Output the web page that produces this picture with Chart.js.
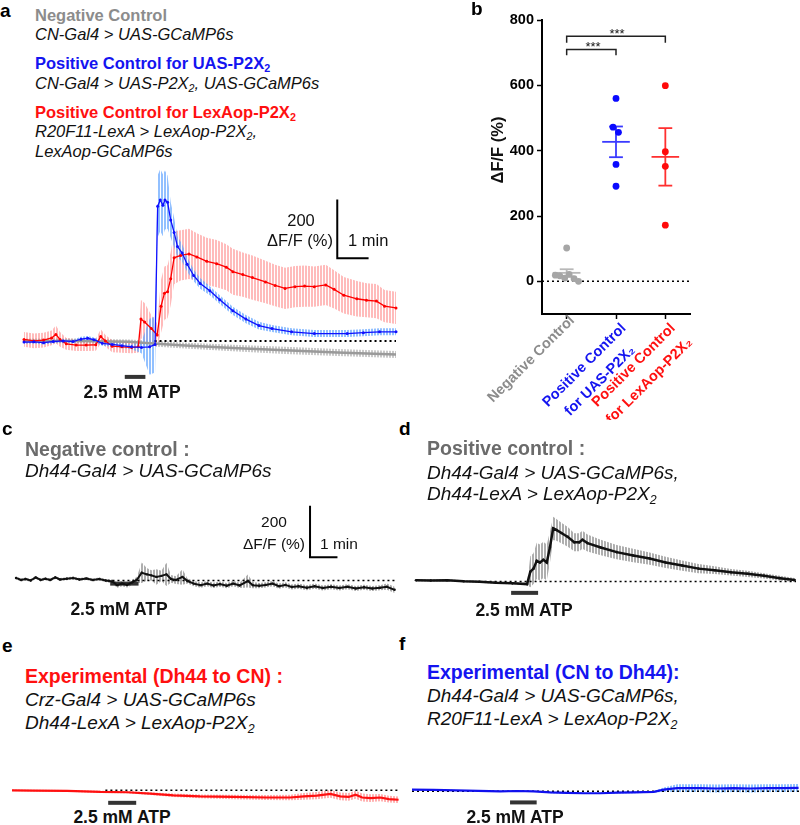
<!DOCTYPE html>
<html>
<head>
<meta charset="utf-8">
<script src="https://cdn.jsdelivr.net/npm/chart.js@4.4.1/dist/chart.umd.min.js"></script>
<style>
  html, body { margin: 0; padding: 0; background: #fff; }
  body { position: relative; width: 800px; height: 825px; overflow: hidden; font-family: "Liberation Sans", Arial, sans-serif; color: #111; }
  canvas { position: absolute; }
  .t { position: absolute; white-space: nowrap; line-height: 1; }
  .b { font-weight: bold; }
  .i { font-style: italic; }
  .lbl { font-weight: bold; font-size: 19px; color: #000; }
  .atp { font-weight: bold; font-size: 17.5px; transform: translateX(-50%); color: #111; }
  sub { font-size: 0.65em; vertical-align: -0.3em; line-height: 0; }
  .gray { color: #8c8c8c; }
  .dgray { color: #6b6b6b; }
  .blue { color: #1414f0; }
  .red { color: #ff1010; }
</style>
</head>
<body>
<canvas id="chart-a"></canvas>
<canvas id="chart-b"></canvas>
<canvas id="chart-c"></canvas>
<canvas id="chart-d"></canvas>
<canvas id="chart-e"></canvas>
<canvas id="chart-f"></canvas>

<!-- panel a -->
<div class="t lbl" style="left:0;top:1px">a</div>
<div class="t b gray" style="left:35px;top:7px;font-size:16.5px">Negative Control</div>
<div class="t i" style="left:35px;top:25.5px;font-size:16.5px">CN-Gal4 &gt; UAS-GCaMP6s</div>
<div class="t b blue" style="left:35px;top:55px;font-size:16.5px">Positive Control for UAS-P2X<sub>2</sub></div>
<div class="t i" style="left:35px;top:75px;font-size:16.5px">CN-Gal4 &gt; UAS-P2X<sub>2</sub>, UAS-GCaMP6s</div>
<div class="t b red" style="left:35px;top:104px;font-size:16.5px">Positive Control for LexAop-P2X<sub>2</sub></div>
<div class="t i" style="left:35px;top:123px;font-size:16.5px">R20F11-LexA &gt; LexAop-P2X<sub>2</sub>,</div>
<div class="t i" style="left:35px;top:143px;font-size:16.5px">LexAop-GCaMP6s</div>
<div class="t" style="left:301px;top:212px;font-size:16.5px;transform:translateX(-50%)">200</div>
<div class="t" style="right:467px;top:232px;font-size:16.5px">ΔF/F (%)</div>
<div class="t" style="left:348px;top:232px;font-size:16.5px">1 min</div>
<div class="t atp" style="left:132px;top:383.5px">2.5 mM ATP</div>

<!-- panel b -->
<div class="t lbl" style="left:471px;top:-1px">b</div>
<div class="t b" style="left:497px;top:150px;font-size:16.5px;transform:translate(-50%,-50%) rotate(-90deg)">ΔF/F (%)</div>
<div class="t" style="left:593px;top:40px;font-size:13px;transform:translateX(-50%)">***</div>
<div class="t" style="left:617px;top:27px;font-size:13px;transform:translateX(-50%)">***</div>

<!-- panel c -->
<div class="t lbl" style="left:2px;top:419px">c</div>
<div class="t b dgray" style="left:25px;top:439.5px;font-size:19.5px">Negative control :</div>
<div class="t i" style="left:25px;top:461px;font-size:19px">Dh44-Gal4 &gt; UAS-GCaMP6s</div>
<div class="t" style="left:274px;top:514px;font-size:15.5px;transform:translateX(-50%)">200</div>
<div class="t" style="right:495px;top:536px;font-size:15.5px">ΔF/F (%)</div>
<div class="t" style="left:320px;top:536px;font-size:15.5px">1 min</div>
<div class="t atp" style="left:119px;top:600.5px">2.5 mM ATP</div>

<!-- panel d -->
<div class="t lbl" style="left:399px;top:419px">d</div>
<div class="t b dgray" style="left:427px;top:438.5px;font-size:19.5px">Positive control :</div>
<div class="t i" style="left:427px;top:462.5px;font-size:19px">Dh44-Gal4 &gt; UAS-GCaMP6s,</div>
<div class="t i" style="left:427px;top:484px;font-size:19px">Dh44-LexA &gt; LexAop-P2X<sub>2</sub></div>
<div class="t atp" style="left:524px;top:601.5px">2.5 mM ATP</div>

<!-- panel e -->
<div class="t lbl" style="left:2px;top:636px">e</div>
<div class="t b red" style="left:25px;top:666.5px;font-size:19.5px">Experimental (Dh44 to CN) :</div>
<div class="t i" style="left:25px;top:689.5px;font-size:19px">Crz-Gal4 &gt; UAS-GCaMP6s</div>
<div class="t i" style="left:25px;top:712.5px;font-size:19px">Dh44-LexA &gt; LexAop-P2X<sub>2</sub></div>
<div class="t atp" style="left:122px;top:809px">2.5 mM ATP</div>

<!-- panel f -->
<div class="t lbl" style="left:399px;top:634px">f</div>
<div class="t b blue" style="left:427px;top:663px;font-size:19.5px">Experimental (CN to Dh44):</div>
<div class="t i" style="left:427px;top:686px;font-size:19px">Dh44-Gal4 &gt; UAS-GCaMP6s,</div>
<div class="t i" style="left:427px;top:709px;font-size:19px">R20F11-LexA &gt; LexAop-P2X<sub>2</sub></div>
<div class="t atp" style="left:515px;top:809px">2.5 mM ATP</div>

<script>
const FONT = '"Liberation Sans", Arial, sans-serif';

// ─── Panel a: CN traces (time s, ΔF/F %) ───────────────────────
const A_BLUE_T = [0, 19, 37.5, 56, 75, 94, 109, 122, 134, 150, 169, 187.5, 206, 225, 240.6, 251, 256, 261, 266, 270, 275, 281, 287.5, 294, 303, 312.5, 325, 337.5, 356, 375, 400, 425, 450, 475, 512.5, 556, 619, 650, 681, 712.5];
const A_BLUE_Y = [-4, -3, -6, -2, 0, -2, 6, 9, 4, -8, -12, -16, -20, -22, -20, -12, 457, 478, 460, 478, 470, 410, 368, 320, 298, 260, 222, 195, 170, 140, 102, 74, 52, 42, 31, 25, 25, 28, 31, 31];
const A_BLUE_SEM = [6, 6, 6, 6, 6, 6, 8, 8, 8, 8, 8, 8, 8, 20, 95, 95, 105, 105, 105, 100, 90, 60, 50, 35, 30, 25, 20, 18, 15, 15, 14, 14, 13, 12, 12, 12, 12, 12, 12, 12];

const A_RED_T = [0, 19, 37.5, 53, 61, 69, 81, 100, 119, 137.5, 147, 156, 169, 187.5, 206, 219, 224, 231, 244, 255, 262.5, 269, 275, 281, 287.5, 300, 316, 331, 350, 369, 387.5, 400, 419, 437.5, 462.5, 481, 500, 519, 537.5, 556, 578, 594, 612.5, 637.5, 656, 675, 690.6, 712.5];
const A_RED_Y = [5, 0, 3, 10, 22, 5, -10, -14, -14, -13, 15, 0, -18, -20, -22, -20, 74, 64, 42, 20, 118, 162, 167, 211, 282, 290, 295, 285, 270, 262, 250, 235, 225, 215, 200, 188, 178, 184, 186, 184, 190, 175, 155, 143, 138, 135, 118, 112];
const A_RED_SEM = [25, 25, 25, 25, 30, 25, 20, 20, 20, 20, 25, 20, 20, 20, 20, 20, 65, 65, 45, 40, 90, 90, 90, 90, 90, 85, 85, 80, 80, 80, 78, 78, 75, 75, 72, 70, 70, 70, 70, 68, 68, 65, 62, 60, 58, 58, 55, 55];

const A_GRAY_T = [0, 100, 200, 256, 300, 400, 500, 600, 712.5];
const A_GRAY_Y = [0, 0, -3, -10, -15, -24, -32, -39, -46];
const A_GRAY_SEM = [8, 8, 8, 10, 10, 11, 12, 12, 12];

const A_ATP_X = [193, 232.5];
const A_ATP_Y = [-122, -122];
const A_ZERO_X = [250, 712.5];
const A_SCALE_X = [600, 600, 660];
const A_SCALE_Y = [480, 280, 280];

// ─── Panel b: peak ΔF/F per fly ───────────────────────────────
const B_TICKS = [0, 1, 2];
const B_LABELS = ['Negative Control', ['Positive Control', 'for UAS-P2X₂'], ['Positive Control', 'for LexAop-P2X₂']];
const B_YTICKS = [0, 200, 400, 600, 800];
const B_NEG_X = [-0.23, -0.14, -0.04, 0.05, 0.15, 0.24, 0];
const B_NEG_Y = [19, 17, 10, 21, 8, 0, 102];
const B_UAS_X = [1, 0.94, 1.05, 1, 1];
const B_UAS_Y = [560, 472, 456, 358, 291];
const B_LEX_X = [2, 2, 2, 2];
const B_LEX_Y = [599, 397, 352, 172];
const B_MEAN = [26, 427, 381];
const B_SEM = [11, 47, 88];
const B_BRACKET1_X = [0, 0, 1, 1];
const B_BRACKET1_Y = [692, 710, 710, 692];
const B_BRACKET2_X = [0, 0, 2, 2];
const B_BRACKET2_Y = [730, 750, 750, 730];

// ─── Panel c: Dh44 negative control ───────────────────────────
const C_T = [0, 11, 21, 32, 43, 54, 64, 75, 86, 96, 111, 125, 139, 154, 168, 182, 196, 211, 221, 232, 243, 254, 264, 275, 286, 296, 307, 318, 329, 339, 350, 364, 375, 389, 404, 418, 432, 446, 461, 475, 489, 507, 518, 532, 546, 561, 575, 589, 603, 618, 636, 653, 671, 689, 707, 725, 743, 761, 779, 796, 811, 828];
const C_Y = [10, 2, 6, 0, 12, 2, 7, 2, 12, 4, 7, 10, 4, 8, 2, 6, 0, -4, -18, -12, -17, -7, 2, 30, 24, 20, 14, 18, 24, 6, 2, 14, -2, -12, -18, -12, -19, -14, -20, -12, -19, -2, -18, -20, -17, -12, -22, -17, -25, -22, -28, -22, -29, -24, -29, -24, -31, -26, -31, -28, -24, -36];
const C_SEM = [6, 6, 6, 6, 6, 6, 6, 6, 6, 6, 6, 6, 6, 6, 6, 6, 6, 8, 10, 10, 10, 10, 12, 40, 25, 20, 30, 20, 45, 15, 15, 30, 10, 10, 10, 10, 10, 10, 10, 10, 10, 25, 12, 10, 10, 10, 10, 10, 10, 10, 10, 10, 10, 10, 10, 10, 10, 10, 10, 10, 12, 12];
const C_ATP_X = [206, 268];
const C_ATP_Y = [-12, -12];
const C_ZERO_X = [200, 831];
const C_SCALE_X = [643, 643, 703];
const C_SCALE_Y = [290, 90, 90];

// ─── Panel d: Dh44 positive control ───────────────────────────
const D_T = [0, 32, 68, 104, 139, 175, 211, 243, 250, 257, 264, 271, 278.5, 286, 293, 300, 307, 318, 332, 346, 357, 364, 375, 404, 439, 475, 511, 546, 582, 618, 653, 689, 725, 761, 796, 828];
const D_Y = [5, 4, 5, 1, -1, -5, -7, -10, 38, 50, 80, 74, 84, 74, 134, 206, 200, 188, 173, 152, 152, 162, 149, 132, 114, 101, 89, 74, 62, 50, 44, 36, 30, 22, 13, 6];
const D_SEM = [4, 4, 4, 4, 4, 4, 4, 4, 60, 60, 70, 70, 70, 70, 60, 45, 42, 40, 38, 35, 35, 35, 33, 30, 28, 26, 24, 22, 20, 18, 15, 13, 12, 10, 9, 8];
const D_ATP_X = [208, 267];
const D_ATP_Y = [-44, -44];
const D_ZERO_X = [150, 831];

// ─── Panel e: Dh44 → CN ───────────────────────────────────────
const E_T = [0, 46, 118, 189, 246, 296, 346, 403, 475, 546, 596, 625, 653, 682, 703, 721, 736, 750, 768, 789, 807, 828];
const E_Y = [0, -1, -2, -6, -7, -12, -18, -22, -24, -26, -26, -22, -19, -13, -22, -24, -16, -26, -28, -26, -32, -34];
const E_SEM = [3, 3, 3, 4, 4, 5, 6, 7, 8, 9, 10, 12, 13, 14, 14, 14, 14, 14, 14, 13, 12, 12];
const E_ATP_X = [206, 266];
const E_ATP_Y = [-45, -45];
const E_ZERO_X = [200, 831];

// ─── Panel f: CN → Dh44 ───────────────────────────────────────
const F_T = [0, 46, 118, 189, 225, 261, 296, 332, 368, 403, 439, 475, 518, 539, 568, 618, 653, 689, 725, 761, 796, 828];
const F_Y = [6, 5, 2, 0, 1, 0, -4, -6, -7, -7, -5, -4, -2, 6, 11, 11, 10, 11, 10, 11, 11, 12];
const F_SEM = [2, 2, 2, 2, 2, 2, 3, 3, 3, 3, 3, 3, 3, 8, 14, 14, 14, 14, 14, 14, 14, 14];
const F_ATP_X = [210, 267];
const F_ATP_Y = [-40, -40];
const F_ZERO_X = [0, 831];

// ─── helpers ──────────────────────────────────────────────────
const pts = (xs, ys) => xs.map((x, i) => ({ x, y: ys[i] }));

// vertical-stripe pattern, so the SEM band looks like dense error bars
function hatch(color) {
  const c = document.createElement('canvas');
  c.width = 3; c.height = 1;
  const g = c.getContext('2d');
  g.fillStyle = color;
  g.fillRect(0, 0, 2, 1);
  return g.createPattern(c, 'repeat');
}

function bandSets(xs, ys, sem, color) {
  return [
    { data: xs.map((x, i) => ({ x, y: ys[i] + sem[i] })), fill: '+1', backgroundColor: hatch(color), borderWidth: 0, pointRadius: 0, order: 2, clip: false },
    { data: xs.map((x, i) => ({ x, y: ys[i] - sem[i] })), fill: false, borderWidth: 0, pointRadius: 0, order: 2, clip: false }
  ];
}

function traceSet(xs, ys, color, width, radius) {
  return { data: pts(xs, ys), borderColor: color, backgroundColor: color, borderWidth: width,
    pointRadius: radius, pointBorderWidth: 0, fill: false, order: 0, clip: false };
}

function segSet(xs, ys, color, width, dash, order) {
  return { data: pts(xs, ys), borderColor: color, backgroundColor: color, borderWidth: width, borderDash: dash || [],
    pointRadius: 0, fill: false, showLine: true, order: order === undefined ? 0 : order, clip: false };
}

function placeCanvas(id, box) {
  const canvas = document.getElementById(id);
  canvas.width = box.w;
  canvas.height = box.h;
  Object.assign(canvas.style, { left: box.x + 'px', top: box.y + 'px', width: box.w + 'px', height: box.h + 'px' });
  return canvas;
}

function makeTraceChart(id, box, datasets) {
  const canvas = placeCanvas(id, box);
  return new Chart(canvas.getContext('2d'), {
    type: 'line',
    data: { datasets },
    options: {
      responsive: false, animation: false, devicePixelRatio: 1, events: [],
      layout: { padding: 0 },
      plugins: { legend: { display: false }, tooltip: { enabled: false } },
      scales: {
        x: { type: 'linear', display: false, min: 0, max: box.xMax },
        y: { type: 'linear', display: false, min: box.yMin, max: box.yMax }
      }
    }
  });
}

// ─── panel a ──────────────────────────────────────────────────
makeTraceChart('chart-a', { x: 20, y: 160, w: 380, h: 238, xMax: 712.5, yMin: -180, yMax: 600 }, [
  traceSet(A_BLUE_T, A_BLUE_Y, '#1010ff', 1.3, 1.5),
  traceSet(A_RED_T, A_RED_Y, '#ff0000', 1.3, 1.5),
  traceSet(A_GRAY_T, A_GRAY_Y, '#9a9a9a', 2.5, 0),
  segSet(A_ATP_X, A_ATP_Y, '#333', 4),
  segSet(A_SCALE_X, A_SCALE_Y, '#000', 2),
  segSet(A_ZERO_X, [0, 0], '#000', 2, [2, 3], 1),
  ...bandSets(A_BLUE_T, A_BLUE_Y, A_BLUE_SEM, 'rgba(100,165,255,0.7)'),
  ...bandSets(A_RED_T, A_RED_Y, A_RED_SEM, 'rgba(255,120,120,0.5)'),
  ...bandSets(A_GRAY_T, A_GRAY_Y, A_GRAY_SEM, 'rgba(165,165,165,0.6)')
]);

// ─── panel b ──────────────────────────────────────────────────
const B_POINT_COLORS = ['#a6a6a6', '#0a0aff', '#ff0a0a'];
const B_BAR_COLORS = ['#b8b8b8', '#3a3aff', '#ff3030'];
const B_TEXT_COLORS = ['#8c8c8c', '#1414f0', '#ff1010'];

const bSets = [];
[[B_NEG_X, B_NEG_Y], [B_UAS_X, B_UAS_Y], [B_LEX_X, B_LEX_Y]].forEach(([xs, ys], g) => {
  bSets.push({ data: pts(xs, ys), showLine: false, pointRadius: 3.4, pointBorderWidth: 0,
    backgroundColor: B_POINT_COLORS[g], order: 0, clip: false });
});
B_MEAN.forEach((m, g) => {
  const s = B_SEM[g];
  const c = B_BAR_COLORS[g];
  bSets.push(segSet([g - 0.28, g + 0.28], [m, m], c, 1.8, null, 1));
  bSets.push(segSet([g, g], [m - s, m + s], c, 1.8, null, 1));
  bSets.push(segSet([g - 0.14, g + 0.14], [m + s, m + s], c, 1.8, null, 1));
  bSets.push(segSet([g - 0.14, g + 0.14], [m - s, m - s], c, 1.8, null, 1));
});
bSets.push(segSet(B_BRACKET1_X, B_BRACKET1_Y, '#222', 1.5));
bSets.push(segSet(B_BRACKET2_X, B_BRACKET2_Y, '#222', 1.5));
bSets.push(segSet([-0.5, 2.5], [0, 0], '#000', 1.5, [2, 3], 2));

// category labels: rotated 45°, lines centred on each other (as in the original)
const rotatedLabels = {
  id: 'rotatedLabels',
  afterDraw(chart) {
    const { ctx } = chart;
    const x = chart.scales.x;
    ctx.save();
    ctx.font = 'bold 14.5px ' + FONT;
    ctx.textAlign = 'center';
    ctx.textBaseline = 'middle';
    B_TICKS.forEach((v, g) => {
      const lines = [].concat(B_LABELS[g]);
      const w = ctx.measureText(lines[0]).width;
      const multi = lines.length > 1;
      ctx.save();
      ctx.translate(x.getPixelForValue(v), x.top);
      ctx.rotate(-Math.PI / 4);
      ctx.fillStyle = B_TEXT_COLORS[g];
      lines.forEach((l, k) => ctx.fillText(l, -w / 2 + (multi ? -3 : 1), (multi ? 14 : 7) + k * 22));
      ctx.restore();
    });
    ctx.restore();
  }
};

const AXIS_GRID = { drawOnChartArea: false, tickLength: 5, tickColor: '#000', tickWidth: 1.5 };
const AXIS_BORDER = { color: '#000', width: 2 };
const bCanvas = placeCanvas('chart-b', { x: 470, y: 0, w: 240, h: 420 });
new Chart(bCanvas.getContext('2d'), {
  type: 'scatter',
  data: { datasets: bSets },
  plugins: [rotatedLabels],
  options: {
    responsive: false, animation: false, devicePixelRatio: 1, events: [],
    layout: { padding: { top: 20, right: 20, left: 0, bottom: 0 } },
    plugins: { legend: { display: false }, tooltip: { enabled: false } },
    scales: {
      x: {
        type: 'linear', min: -0.5, max: 2.5,
        afterBuildTicks: s => { s.ticks = B_TICKS.map(v => ({ value: v })); },
        afterFit: s => { s.height = 106; s.paddingLeft = 0; s.paddingRight = 0; },
        ticks: { display: false },
        grid: AXIS_GRID, border: AXIS_BORDER
      },
      y: {
        type: 'linear', min: -100, max: 800,
        afterBuildTicks: s => { s.ticks = B_YTICKS.map(v => ({ value: v })); },
        afterFit: s => { s.width = 72; s.paddingTop = 0; s.paddingBottom = 0; },
        ticks: { color: '#000', padding: 3, font: { family: FONT, size: 14.5, weight: 'bold' } },
        grid: AXIS_GRID, border: AXIS_BORDER
      }
    }
  }
});

// ─── panels c–f ───────────────────────────────────────────────
makeTraceChart('chart-c', { x: 12, y: 494, w: 388, h: 106, xMax: 831, yMin: -60, yMax: 320 }, [
  traceSet(C_T, C_Y, '#111', 2, 1.2),
  segSet(C_ATP_X, C_ATP_Y, '#333', 4),
  segSet(C_SCALE_X, C_SCALE_Y, '#000', 2),
  segSet(C_ZERO_X, [0, 0], '#000', 1.5, [2, 3], 1),
  ...bandSets(C_T, C_Y, C_SEM, 'rgba(130,130,130,0.65)')
]);

makeTraceChart('chart-d', { x: 412, y: 495, w: 388, h: 106, xMax: 831, yMin: -60, yMax: 320 }, [
  traceSet(D_T, D_Y, '#111', 2.5, 1.3),
  segSet(D_ATP_X, D_ATP_Y, '#333', 4),
  segSet(D_ZERO_X, [0, 0], '#000', 1.5, [2, 3], 1),
  ...bandSets(D_T, D_Y, D_SEM, 'rgba(130,130,130,0.65)')
]);

makeTraceChart('chart-e', { x: 12, y: 773, w: 388, h: 34, xMax: 831, yMin: -60, yMax: 62 }, [
  traceSet(E_T, E_Y, '#ff1010', 2.2, 0),
  segSet(E_ATP_X, E_ATP_Y, '#333', 4),
  segSet(E_ZERO_X, [0, 0], '#000', 1.5, [2, 3], 1),
  ...bandSets(E_T, E_Y, E_SEM, 'rgba(255,100,100,0.5)')
]);

makeTraceChart('chart-f', { x: 412, y: 774, w: 388, h: 34, xMax: 831, yMin: -60, yMax: 62 }, [
  traceSet(F_T, F_Y, '#1010ee', 2.2, 0),
  segSet(F_ATP_X, F_ATP_Y, '#333', 4),
  segSet(F_ZERO_X, [0, 0], '#000', 1.5, [2, 3], 1),
  ...bandSets(F_T, F_Y, F_SEM, 'rgba(80,160,255,0.65)')
]);
</script>
</body>
</html>
